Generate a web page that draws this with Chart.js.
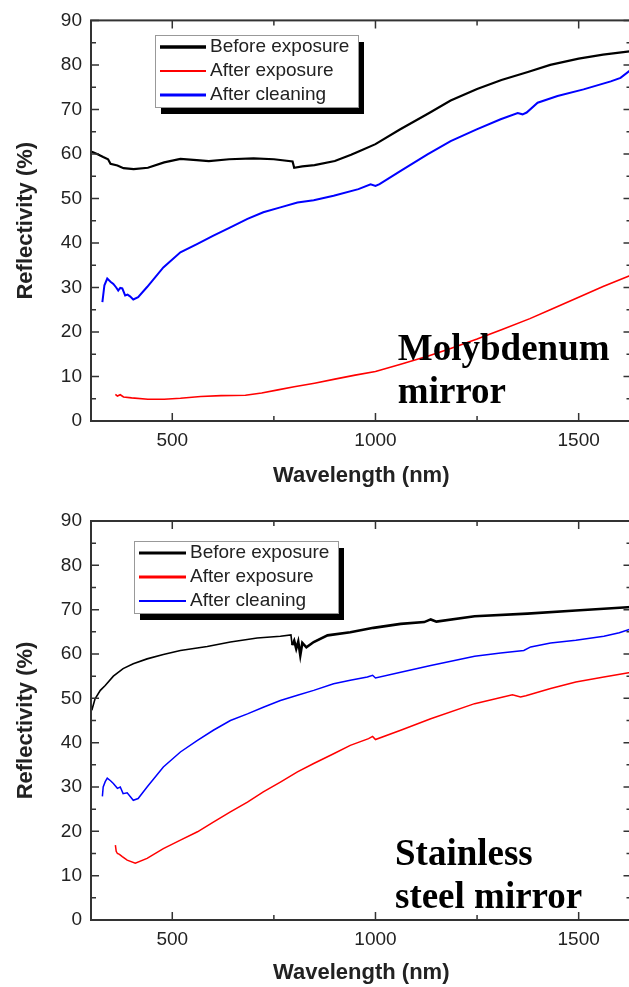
<!DOCTYPE html>
<html>
<head>
<meta charset="utf-8">
<script src="https://cdn.jsdelivr.net/npm/chart.js@4.4.1/dist/chart.umd.min.js"></script>
<style>
  html, body { margin: 0; padding: 0; background: #fff; overflow: hidden; width: 629px; height: 987px; }
  canvas { position: absolute; left: 0; display: block; }
  #moChart { top: 0; }
  #ssChart { top: 500px; }
</style>
</head>
<body>
<canvas id="moChart" width="640" height="500"></canvas>
<canvas id="ssChart" width="640" height="487"></canvas>
<script>
// tick positions
const xTicks = [500, 750, 1000, 1250, 1500];
const yTicks = [0, 5, 10, 15, 20, 25, 30, 35, 40, 45, 50, 55, 60, 65, 70, 75, 80, 85, 90];

// Molybdenum mirror
const moBeforeX = [302, 315, 330, 342, 348, 365, 380, 405, 440, 480, 520, 560, 590, 640, 700, 750, 796, 800, 820, 850, 900, 940, 960, 1000, 1060, 1130, 1185, 1250, 1310, 1375, 1430, 1500, 1560, 1630];
const moBeforeY = [60.5, 60.0, 59.3, 58.8, 57.8, 57.4, 56.8, 56.6, 56.9, 58.1, 58.9, 58.6, 58.4, 58.8, 59.0, 58.8, 58.3, 56.9, 57.2, 57.5, 58.4, 59.8, 60.6, 62.2, 65.5, 69.1, 72.0, 74.6, 76.6, 78.4, 80.0, 81.4, 82.3, 83.1];
const moAfterX = [360, 365, 372, 380, 400, 440, 480, 520, 570, 620, 680, 720, 760, 800, 850, 900, 950, 1000, 1060, 1130, 1185, 1250, 1310, 1380, 1430, 1500, 1560, 1630];
const moAfterY = [6.0, 5.6, 5.9, 5.4, 5.2, 4.9, 4.9, 5.1, 5.5, 5.7, 5.8, 6.3, 7.0, 7.7, 8.5, 9.4, 10.3, 11.1, 12.7, 14.6, 16.3, 18.4, 20.5, 23.0, 25.0, 27.8, 30.2, 32.8];
const moCleanX = [328, 333, 340, 348, 355, 362, 367, 372, 377, 384, 390, 396, 404, 416, 438, 478, 520, 562, 600, 643, 685, 724, 766, 808, 848, 897, 958, 988, 1000, 1010, 1062, 1128, 1185, 1249, 1308, 1350, 1362, 1372, 1399, 1448, 1512, 1579, 1603, 1630];
const moCleanY = [26.7, 30.5, 32.0, 31.3, 30.8, 30.0, 29.3, 29.9, 29.8, 28.2, 28.4, 28.0, 27.3, 27.8, 30.1, 34.5, 37.9, 39.8, 41.6, 43.5, 45.4, 46.9, 48.0, 49.1, 49.6, 50.6, 52.1, 53.2, 52.8, 53.2, 56.2, 59.9, 62.9, 65.5, 67.8, 69.2, 68.9, 69.3, 71.5, 73.0, 74.5, 76.3, 77.1, 79.0];

// Stainless steel mirror
const ssBeforeX = [302, 310, 323, 335, 355, 379, 404, 438, 478, 520, 586, 643, 709, 766, 792, 795, 800, 805, 810, 815, 820, 830, 848, 882, 938, 995, 1062, 1120, 1136, 1150, 1244, 1374, 1493, 1630];
const ssBeforeY = [47.3, 49.9, 51.8, 52.9, 55.0, 56.7, 57.8, 58.9, 59.9, 60.8, 61.7, 62.7, 63.6, 64.0, 64.3, 62.0, 63.0, 61.2, 62.8, 59.7, 62.5, 61.5, 62.7, 64.2, 64.9, 65.9, 66.8, 67.2, 67.8, 67.3, 68.5, 69.1, 69.8, 70.6];
const ssAfterX = [360, 362, 365, 370, 377, 389, 409, 438, 478, 520, 562, 601, 643, 685, 724, 766, 808, 848, 897, 938, 983, 993, 1000, 1062, 1136, 1244, 1337, 1357, 1370, 1431, 1493, 1562, 1630];
const ssAfterY = [16.9, 15.5, 15.0, 14.8, 14.3, 13.5, 12.8, 13.9, 16.1, 18.0, 19.9, 22.1, 24.4, 26.6, 28.9, 31.1, 33.4, 35.3, 37.5, 39.4, 40.9, 41.4, 40.7, 42.8, 45.4, 48.8, 50.8, 50.3, 50.6, 52.2, 53.7, 54.8, 55.9];
const ssCleanX = [328, 330, 335, 340, 348, 355, 365, 372, 379, 389, 397, 404, 416, 438, 478, 520, 562, 601, 643, 685, 724, 766, 808, 848, 897, 938, 980, 993, 1000, 1062, 1136, 1244, 1308, 1365, 1382, 1431, 1493, 1562, 1600, 1630];
const ssCleanY = [27.9, 30.0, 31.2, 32.0, 31.4, 30.8, 29.7, 30.0, 28.5, 28.7, 27.8, 27.0, 27.4, 30.0, 34.5, 37.9, 40.5, 42.8, 45.0, 46.5, 48.0, 49.5, 50.7, 51.8, 53.3, 54.1, 54.8, 55.2, 54.6, 55.9, 57.4, 59.5, 60.2, 60.8, 61.6, 62.5, 63.1, 64.0, 64.8, 65.7];

const sans = "'Liberation Sans', Arial, sans-serif";
const serif = "'Liberation Serif', 'Times New Roman', serif";
Chart.defaults.font.family = sans;

const toPoints = (xs, ys) => xs.map((x, i) => ({ x: x, y: ys[i] }));

// box around the plot, ticks pointing inward on all four sides
const frameTicks = {
    id: 'frameTicks',
    afterDatasetsDraw(chart) {
        const { ctx, chartArea: a, scales: { x, y } } = chart;
        ctx.save();
        ctx.strokeStyle = '#333';
        ctx.lineWidth = 1.5;
        ctx.beginPath();
        xTicks.forEach(v => {
            const px = x.getPixelForValue(v);
            const len = v % 500 === 0 ? 8 : 5;
            ctx.moveTo(px, a.bottom); ctx.lineTo(px, a.bottom - len);
            ctx.moveTo(px, a.top); ctx.lineTo(px, a.top + len);
        });
        yTicks.forEach(v => {
            const py = y.getPixelForValue(v);
            const len = v % 10 === 0 ? 8 : 5;
            ctx.moveTo(a.left, py); ctx.lineTo(a.left + len, py);
            ctx.moveTo(a.right, py); ctx.lineTo(a.right - len, py);
        });
        ctx.stroke();
        ctx.lineWidth = 2;
        ctx.strokeRect(a.left, a.top, a.right - a.left, a.bottom - a.top);
        ctx.restore();
    }
};

// legend box with a black drop shadow
const boxLegend = {
    id: 'boxLegend',
    afterDraw(chart, args, opts) {
        const { ctx } = chart;
        const sets = chart.data.datasets;
        const h = opts.rowHeight * sets.length;
        ctx.save();
        ctx.fillStyle = '#000';
        ctx.fillRect(opts.left + 6, opts.top + 7, opts.width, h);
        ctx.fillStyle = '#fff';
        ctx.fillRect(opts.left, opts.top, opts.width, h);
        ctx.strokeStyle = '#999';
        ctx.lineWidth = 1;
        ctx.strokeRect(opts.left + 0.5, opts.top + 0.5, opts.width, h);
        ctx.font = '19px ' + sans;
        ctx.textBaseline = 'middle';
        sets.forEach((ds, i) => {
            const cy = opts.top + opts.rowHeight * (i + 0.5);
            ctx.strokeStyle = ds.borderColor;
            ctx.lineWidth = opts.lineWidths[i];
            ctx.beginPath();
            ctx.moveTo(opts.left + 5, cy);
            ctx.lineTo(opts.left + 5 + opts.lineLength, cy);
            ctx.stroke();
            ctx.fillStyle = '#222';
            ctx.fillText(ds.label, opts.left + 9 + opts.lineLength, cy);
        });
        ctx.restore();
    }
};

// bold serif caption placed at a data position
const caption = {
    id: 'caption',
    afterDraw(chart, args, opts) {
        const { ctx, scales: { x, y } } = chart;
        ctx.save();
        ctx.font = 'bold 37px ' + serif;
        ctx.fillStyle = '#000';
        ctx.textBaseline = 'alphabetic';
        const px = x.getPixelForValue(opts.x);
        const py = y.getPixelForValue(opts.y);
        opts.lines.forEach((t, i) => ctx.fillText(t, px, py + i * 43));
        ctx.restore();
    }
};

function makeOptions(cfg) {
    return {
        responsive: false,
        animation: false,
        layout: { padding: { left: 0, right: 8.5, top: cfg.padTop, bottom: 0 } },
        elements: { point: { radius: 0 }, line: { tension: 0 } },
        plugins: {
            legend: { display: false },
            tooltip: { enabled: false },
            boxLegend: cfg.legend,
            caption: cfg.caption
        },
        scales: {
            x: {
                type: 'linear',
                min: 300,
                max: 1630,
                afterBuildTicks: axis => { axis.ticks = xTicks.map(v => ({ value: v })); },
                afterFit: axis => { axis.height = cfg.xHeight; },
                grid: { display: false, drawTicks: false },
                border: { display: false },
                ticks: {
                    padding: 8,
                    color: '#222',
                    font: { size: 19 },
                    maxRotation: 0,
                    autoSkip: false,
                    callback: v => (v % 500 === 0 ? v : '')
                },
                title: {
                    display: true,
                    text: 'Wavelength (nm)',
                    color: '#222',
                    font: { size: 22, weight: 'bold' },
                    padding: { top: 0, bottom: cfg.xTitlePad }
                }
            },
            y: {
                min: 0,
                max: 90,
                afterBuildTicks: axis => { axis.ticks = yTicks.map(v => ({ value: v })); },
                afterFit: axis => { axis.width = 91; },
                grid: { display: false, drawTicks: false },
                border: { display: false },
                ticks: {
                    padding: 9,
                    color: '#222',
                    font: { size: 19 },
                    autoSkip: false,
                    callback: v => (v % 10 === 0 ? v : '')
                },
                title: {
                    display: true,
                    text: 'Reflectivity (%)',
                    color: '#222',
                    font: { size: 22, weight: 'bold' },
                    padding: { top: 13, bottom: 0 }
                }
            }
        }
    };
}

function makeDatasets(before, after, clean, widths) {
    return [
        { label: 'Before exposure', data: before, borderColor: '#000000', borderWidth: widths[0] },
        { label: 'After exposure', data: after, borderColor: '#ff0000', borderWidth: widths[1] },
        { label: 'After cleaning', data: clean, borderColor: '#0000ff', borderWidth: widths[2] }
    ];
}

new Chart(document.getElementById('moChart').getContext('2d'), {
    type: 'line',
    data: {
        datasets: makeDatasets(toPoints(moBeforeX, moBeforeY), toPoints(moAfterX, moAfterY), toPoints(moCleanX, moCleanY), [2.2, 1.6, 2])
    },
    options: makeOptions({
        padTop: 19,
        xHeight: 79,
        xTitlePad: 11,
        legend: { left: 155, top: 35, width: 203, rowHeight: 24, lineLength: 46, lineWidths: [3.5, 2, 3] },
        caption: { x: 1055, y: 13.7, lines: ['Molybdenum', 'mirror'] }
    }),
    plugins: [frameTicks, boxLegend, caption]
});

const ssDatasets = makeDatasets(toPoints(ssBeforeX, ssBeforeY), toPoints(ssAfterX, ssAfterY), toPoints(ssCleanX, ssCleanY), [1.6, 1.5, 1.5]);
// the noisy part of the "before" trace past the detector change reads as a thicker band
ssDatasets[0].segment = { borderWidth: c => (c.p0.parsed.x >= 795 ? 2.6 : 1.6) };

new Chart(document.getElementById('ssChart').getContext('2d'), {
    type: 'line',
    data: { datasets: ssDatasets },
    options: makeOptions({
        padTop: 21,
        xHeight: 67,
        xTitlePad: 1,
        legend: { left: 134, top: 41, width: 204, rowHeight: 24, lineLength: 47, lineWidths: [3, 3, 2] },
        caption: { x: 1048, y: 12.4, lines: ['Stainless', 'steel mirror'] }
    }),
    plugins: [frameTicks, boxLegend, caption]
});
</script>
</body>
</html>
